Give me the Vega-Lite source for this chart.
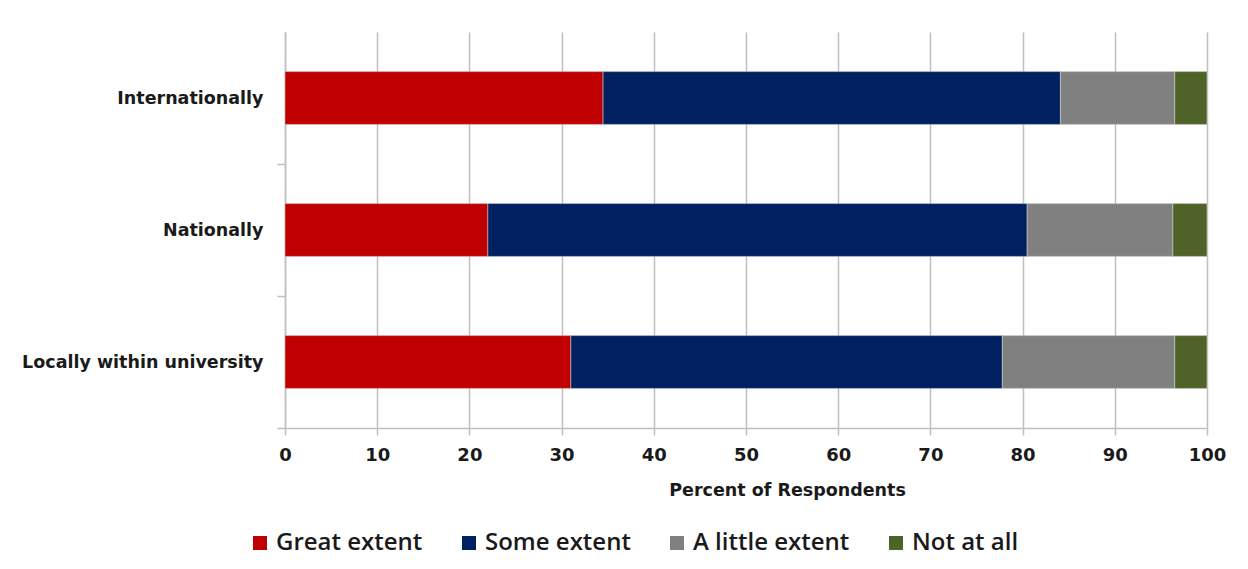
{
  "$schema": "https://vega.github.io/schema/vega-lite/v6.json",
  "width": 922,
  "height": 396,
  "autosize": {"type": "none"},
  "padding": {"left": 285, "top": 32, "right": 41, "bottom": 141},
  "background": "white",
  "config": {
    "view": {"stroke": null},
    "font": "DejaVu Sans"
  },
  "data": {
    "values": [
      {"location": "Internationally", "response": "Great extent", "rank": 1, "percent": 34.5},
      {"location": "Internationally", "response": "Some extent", "rank": 2, "percent": 49.6},
      {"location": "Internationally", "response": "A little extent", "rank": 3, "percent": 12.4},
      {"location": "Internationally", "response": "Not at all", "rank": 4, "percent": 3.5},
      {"location": "Nationally", "response": "Great extent", "rank": 1, "percent": 22.0},
      {"location": "Nationally", "response": "Some extent", "rank": 2, "percent": 58.5},
      {"location": "Nationally", "response": "A little extent", "rank": 3, "percent": 15.8},
      {"location": "Nationally", "response": "Not at all", "rank": 4, "percent": 3.7},
      {"location": "Locally within university", "response": "Great extent", "rank": 1, "percent": 31.0},
      {"location": "Locally within university", "response": "Some extent", "rank": 2, "percent": 46.8},
      {"location": "Locally within university", "response": "A little extent", "rank": 3, "percent": 18.7},
      {"location": "Locally within university", "response": "Not at all", "rank": 4, "percent": 3.5}
    ]
  },
  "mark": {"type": "bar", "stroke": "#d9d9d9", "strokeWidth": 0.5},
  "encoding": {
    "y": {
      "field": "location",
      "type": "nominal",
      "sort": ["Internationally", "Nationally", "Locally within university"],
      "scale": {"paddingInner": 0.6, "paddingOuter": 0.3},
      "axis": {
        "title": null,
        "tickBand": "center",
        "tickOffset": 66,
        "labelOffset": -66,
        "domainColor": "#bfbfbf",
        "domainWidth": 1.5,
        "tickColor": "#bfbfbf",
        "tickWidth": 1.5,
        "tickSize": 8,
        "labelFont": "DejaVu Sans",
        "labelFontSize": 17.5,
        "labelFontWeight": "bold",
        "labelColor": "#1a1a1a",
        "labelPadding": 14,
        "labelLimit": 400,
        "grid": false
      }
    },
    "x": {
      "field": "percent",
      "type": "quantitative",
      "stack": "zero",
      "scale": {"domain": [0, 100], "nice": false},
      "axis": {
        "values": [0, 10, 20, 30, 40, 50, 60, 70, 80, 90, 100],
        "labelFlush": false,
        "title": "Percent of Respondents",
        "titleFont": "DejaVu Sans",
        "titleFontSize": 17.5,
        "titleFontWeight": "bold",
        "titleColor": "#1a1a1a",
        "titleX": 502,
        "titleY": 62,
        "titleAlign": "center",
        "titleBaseline": "middle",
        "grid": true,
        "gridColor": "#bfbfbf",
        "gridWidth": 1.5,
        "domainColor": "#bfbfbf",
        "domainWidth": 1.5,
        "tickColor": "#bfbfbf",
        "tickWidth": 1.5,
        "tickSize": 7,
        "labelFont": "DejaVu Sans",
        "labelFontSize": 18,
        "labelFontWeight": "bold",
        "labelColor": "#1a1a1a",
        "labelPadding": 11
      }
    },
    "order": {"field": "rank", "type": "quantitative", "sort": "ascending"},
    "color": {
      "field": "response",
      "type": "nominal",
      "scale": {
        "domain": ["Great extent", "Some extent", "A little extent", "Not at all"],
        "range": ["#c00000", "#002060", "#808080", "#4f6228"]
      },
      "legend": {
        "title": null,
        "orient": "none",
        "direction": "horizontal",
        "legendX": -37,
        "legendY": 499,
        "symbolType": "square",
        "symbolSize": 196,
        "symbolStrokeWidth": 0,
        "labelFont": "Open Sans",
        "labelFontSize": 24,
        "labelFontWeight": 600,
        "labelColor": "#1a1a1a",
        "columnPadding": 34,
        "labelOffset": 4
      }
    }
  }
}
